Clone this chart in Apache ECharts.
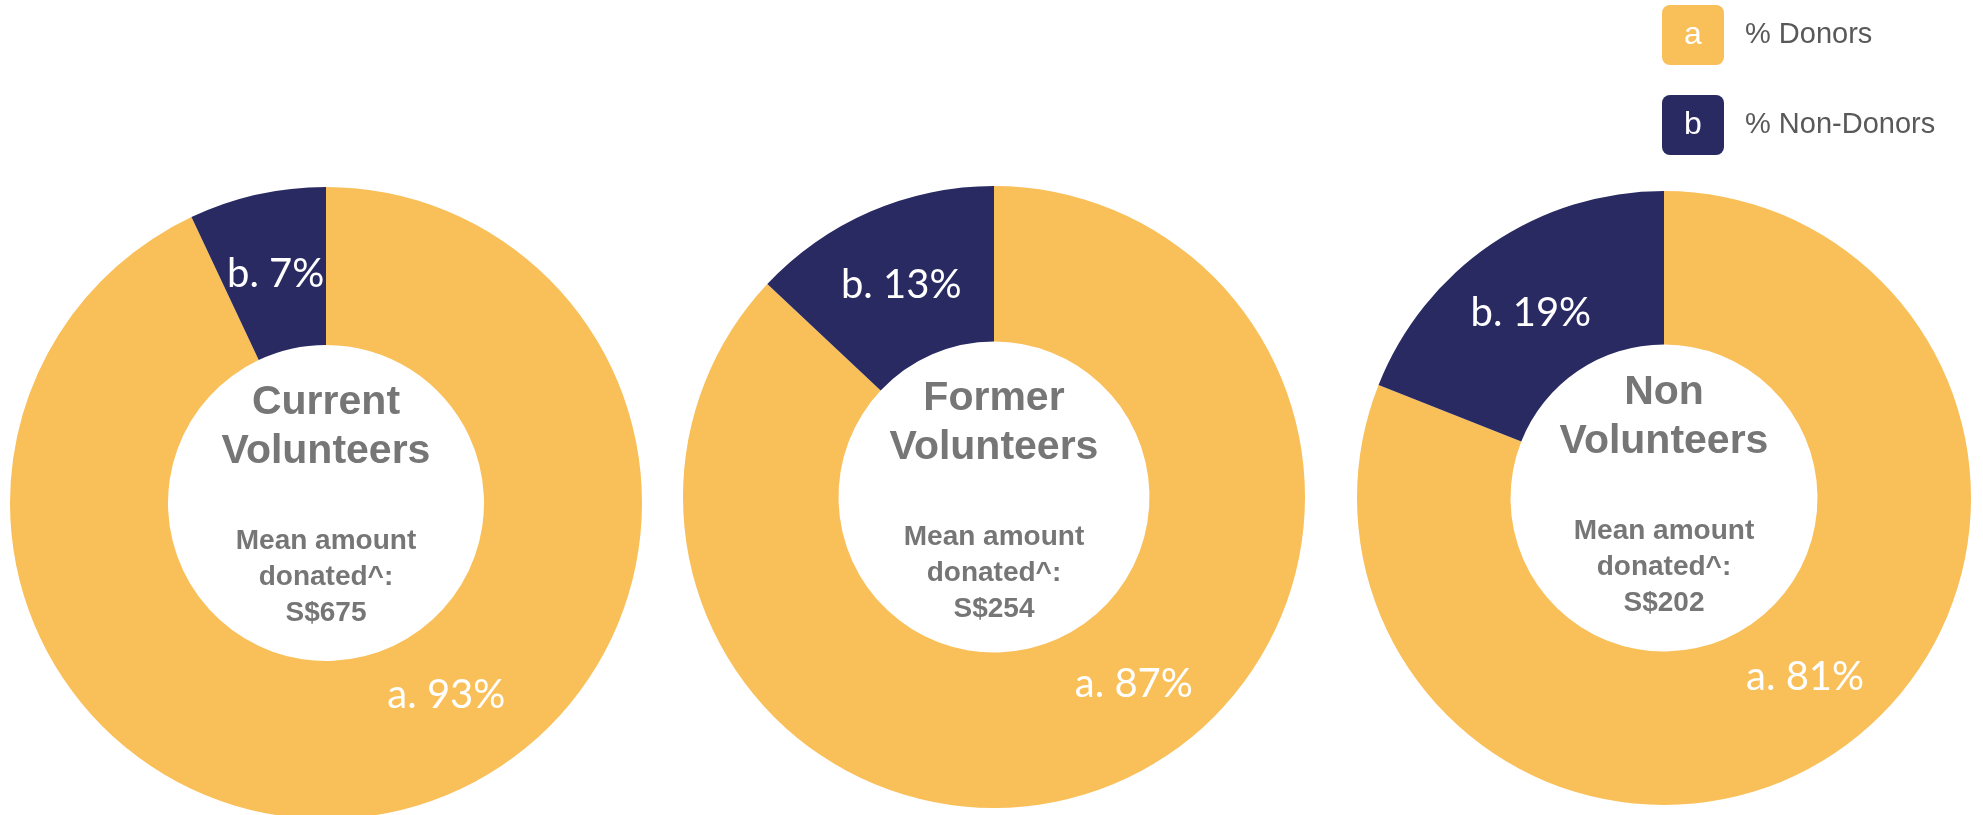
<!DOCTYPE html>
<html>
<head>
<meta charset="utf-8">
<title>Donors by volunteer status</title>
<script src="https://cdn.jsdelivr.net/npm/echarts@6/dist/echarts.min.js"></script>
<style>
  html, body { margin: 0; padding: 0; background: #fff; }
  #chart { width: 1983px; height: 815px; }
</style>
</head>
<body>
<div id="chart"></div>
<script>
// one donut per group
const groups = ['Current\nVolunteers', 'Former\nVolunteers', 'Non\nVolunteers']
const meanDonated = ['S$675', 'S$254', 'S$202']
const categories = ['% Donors', '% Non-Donors']
const letters = ['a', 'b']
const donors = [93, 87, 81]
const nonDonors = [7, 13, 19]

const colors = ['#F9BF59', '#2A2A63']
const grey = '#767676'

// layout of each donut (px)
const centers = [[326, 503], [994, 497], [1664, 498]]
const radii = [316, 311, 307]
const titleTops = [378, 374, 368]
// nudge of the slice labels, [donors, non-donors] as [dx, dy]
const labelShift = [
  [[68, -42], [2, 5]],
  [[46, -30], [1, 5]],
  [[10, -14], [-2, 8]]
]

// legend box
const legendLeft = 1662
const legendTop = 5
const boxW = 62
const boxH = 60
const boxGap = 30

const chart = echarts.init(document.getElementById('chart'))

const series = groups.map((g, i) => ({
  type: 'pie',
  center: centers[i],
  radius: [radii[i] / 2, radii[i]],
  startAngle: 90,
  clockwise: true,
  avoidLabelOverlap: false,
  color: colors,
  itemStyle: { borderWidth: 0 },
  emphasis: { scale: false },
  label: {
    show: true,
    position: 'inside',
    color: '#fff',
    fontFamily: 'Lato',
    fontSize: 40,
    formatter: p => letters[p.dataIndex] + '. ' + p.value + '%'
  },
  labelLine: { show: false },
  labelLayout: p => ({
    dx: labelShift[i][p.dataIndex][0],
    dy: labelShift[i][p.dataIndex][1]
  }),
  data: [
    { name: categories[0], value: donors[i] },
    { name: categories[1], value: nonDonors[i] }
  ]
}))

const title = groups.map((g, i) => ({
  text: g,
  subtext: 'Mean amount\ndonated^:\n' + meanDonated[i],
  left: centers[i][0],
  top: titleTops[i],
  textAlign: 'center',
  padding: 0,
  itemGap: 47,
  textStyle: {
    fontFamily: 'Liberation Sans',
    fontWeight: 'bold',
    fontSize: 41,
    lineHeight: 49,
    color: grey
  },
  subtextStyle: {
    fontFamily: 'Liberation Sans',
    fontWeight: 'bold',
    fontSize: 28,
    lineHeight: 36,
    color: grey
  }
}))

// letters drawn on the legend boxes
const graphic = letters.map((l, k) => ({
  type: 'text',
  x: legendLeft + boxW / 2,
  y: legendTop + boxH / 2 + k * (boxH + boxGap),
  z: 100,
  style: {
    text: l,
    fill: '#fff',
    font: '32px "Liberation Sans"',
    textAlign: 'center',
    textVerticalAlign: 'middle'
  }
}))

chart.setOption({
  animation: false,
  title,
  legend: {
    orient: 'vertical',
    left: legendLeft,
    top: legendTop,
    padding: 0,
    itemWidth: boxW,
    itemHeight: boxH,
    itemGap: boxGap,
    icon: 'path://M8,0H54A8,8,0,0,1,62,8V52A8,8,0,0,1,54,60H8A8,8,0,0,1,0,52V8A8,8,0,0,1,8,0Z',
    textStyle: {
      fontFamily: 'Liberation Sans',
      fontSize: 29,
      color: '#595959',
      padding: [0, 0, 0, 16]
    },
    data: categories
  },
  graphic,
  series
})
</script>
</body>
</html>
